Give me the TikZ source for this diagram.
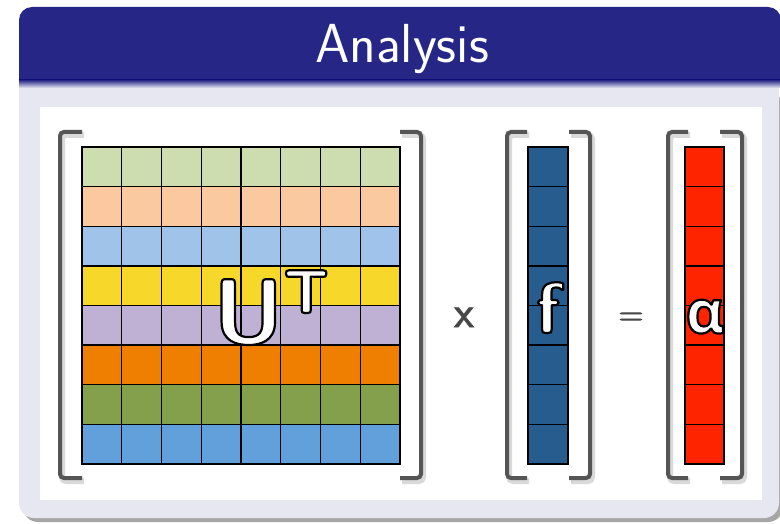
\documentclass[tikz,border=0pt]{standalone}
\usepackage{fontspec}
\usepackage{xcolor}
\newfontfamily\alphafont{Open Sans}

\definecolor{titleblue}{RGB}{38,38,134}
\definecolor{blockbody}{RGB}{231,231,242}
\definecolor{bracketgray}{RGB}{85,85,85}
\definecolor{opgray}{RGB}{72,72,72}
\definecolor{rowA}{RGB}{205,221,176}
\definecolor{rowB}{RGB}{251,201,160}
\definecolor{rowC}{RGB}{160,195,234}
\definecolor{rowD}{RGB}{247,216,42}
\definecolor{rowE}{RGB}{191,177,212}
\definecolor{rowF}{RGB}{238,127,0}
\definecolor{rowG}{RGB}{133,160,76}
\definecolor{rowH}{RGB}{98,160,220}
\definecolor{fblue}{RGB}{38,92,142}
\definecolor{alphared}{RGB}{255,36,0}

\tikzset{
  bracket/.style={bracketgray, line width=4pt, rounded corners=4pt},
  bracketshadow/.style={black, opacity=0.15, line width=6pt, rounded corners=4pt},
  cell/.style={draw=black, line width=1.3pt},
  oplabel/.style={text=opgray, inner sep=0pt, anchor=base},
  veclabel/.style={text=white, inner sep=0pt, anchor=base}
}

% text filled in the current colour, stroked black (white letters with a rim)
\newcommand{\rimtext}[1]{\special{pdf:literal direct 0 G 2.2 w 1 j 2 Tr}#1\special{pdf:literal direct 0 Tr}}
% text stroked in its own colour, to make it heavier
\newcommand{\heavytext}[1]{\special{pdf:literal direct 0.8 w 2 Tr}#1\special{pdf:literal direct 0 Tr}}

% one pair of matrix brackets: outer left, inner left, inner right, outer right
\newcommand{\matbrackets}[4]{%
  \draw[bracketshadow, xshift=2pt, yshift=-3pt] (#2,132) -| (#1,478) -- (#2,478);
  \draw[bracketshadow, xshift=2pt, yshift=-3pt] (#3,132) -| (#4,478) -- (#3,478);
  \draw[bracket] (#2,132) -| (#1,478) -- (#2,478);
  \draw[bracket] (#3,132) -| (#4,478) -- (#3,478);
}

\begin{document}
\begin{tikzpicture}[x=1pt, y=-1pt]
	\useasboundingbox (0,0) rectangle (780,524);
	% block frame
	\fill[black, opacity=0.35, rounded corners=15pt] (23,92) rectangle (783,522);
	\fill[blockbody, rounded corners=15pt] (19,70) rectangle (779,518);
	\fill[titleblue, rounded corners=13pt] (19,7) rectangle (781,60);
	\fill[titleblue] (19,40) rectangle (781,80);
	\shade[top color=titleblue, bottom color=blockbody] (19,80) rectangle (781,88);
	\fill[white] (40,107) rectangle (762,500);
	\node[text=white, inner sep=0pt, anchor=base, font=\fontsize{55}{60}\selectfont\sffamily] (title) at (402,63) {Analysis};

	% matrix U^T
	\foreach \c [count=\i from 0] in {rowA,rowB,rowC,rowD,rowE,rowF,rowG,rowH}
		\foreach \j in {0,...,7}
			\draw[cell, fill=\c] (82+\j*39.75,147+\i*39.625) rectangle ++(39.75,39.625);
	\matbrackets{60}{82}{400}{421}
	\node[veclabel, anchor=base west, font=\fontsize{92}{98}\selectfont\bfseries\sffamily] (ut) at (213,343)
		{\rimtext{U\raisebox{30pt}{\fontsize{62}{68}\selectfont T}}};

	\node[oplabel, font=\fontsize{45}{50}\selectfont\sffamily] (times) at (464,327) {\heavytext{x}};

	% vector f
	\foreach \i in {0,...,7}
		\draw[cell, fill=fblue] (528,147+\i*39.625) rectangle ++(40,39.625);
	\matbrackets{507}{527}{569}{590}
	\node[veclabel, font=\fontsize{72}{78}\selectfont\bfseries\sffamily] (f) at (548,333) {\rimtext{f}};

	\node[oplabel, font=\fontsize{34}{40}\selectfont\sffamily] (equals) at (631,325) {\heavytext{=}};

	% vector alpha
	\foreach \i in {0,...,7}
		\draw[cell, fill=alphared] (685,147+\i*39.625) rectangle ++(39,39.625);
	\matbrackets{668}{688}{720}{742}
	\node[veclabel, font=\fontsize{60}{66}\selectfont\bfseries\alphafont] (alpha) at (705,333) {\rimtext{α}};
\end{tikzpicture}
\end{document}
